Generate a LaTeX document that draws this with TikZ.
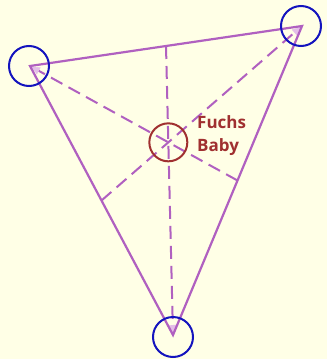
\documentclass[tikz,border=0pt]{standalone}
\usepackage{fontspec}
\setsansfont{Open Sans}
\usetikzlibrary{calc,arrows.meta}
\definecolor{bg}{RGB}{255,255,230}
\definecolor{vio}{RGB}{176,96,192}
\definecolor{vtip}{RGB}{228,190,232}
\definecolor{cblue}{RGB}{20,20,190}
\definecolor{cred}{RGB}{160,48,48}
\tikzset{
  edge/.style={draw=vio, line width=2.2pt, line cap=round},
  median/.style={draw=vio, line width=2pt, dash pattern=on 13pt off 7pt,
     -{Latex[length=10pt,width=8pt,fill=vtip,color=vtip,line width=0.4pt]}},
  ring/.style={circle, draw=cblue, line width=2pt, minimum size=40pt, inner sep=0pt},
  baby/.style={circle, draw=cred, line width=2pt, minimum size=38pt, inner sep=0pt},
  lbl/.style={text=cred, font=\sffamily\bfseries\fontsize{17}{23}\selectfont, align=left, anchor=north west, inner sep=0pt}
}
\begin{document}
\begin{tikzpicture}[x=1pt,y=-1pt]
\fill[bg] (0,0) rectangle (327,359);
\useasboundingbox (0,0) rectangle (327,359);
\coordinate (A) at (30,66);
\coordinate (B) at (302,26);
\coordinate (C) at (173,335);
\coordinate (mAB) at ($(A)!0.5!(B)$);
\coordinate (mBC) at ($(B)!0.5!(C)$);
\coordinate (mAC) at ($(A)!0.5!(C)$);
\coordinate (G) at ($1/3*(A)+1/3*(B)+1/3*(C)$);
% medians
\draw[median] (mBC) -- (A);
\draw[median] (mAC) -- (B);
\draw[median] (mAB) -- (C);
% triangle
\draw[edge] (A) -- (B) -- (C) -- cycle;
% circles
\node[ring] (rA) at (29,66) {};
\node[ring] (rB) at (301,26) {};
\node[ring] (rC) at (173,337) {};
\node[baby] (fb) at (G) {};
\node[lbl] (txt) at (197,115) {Fuchs\\Baby};
\end{tikzpicture}
\end{document}
